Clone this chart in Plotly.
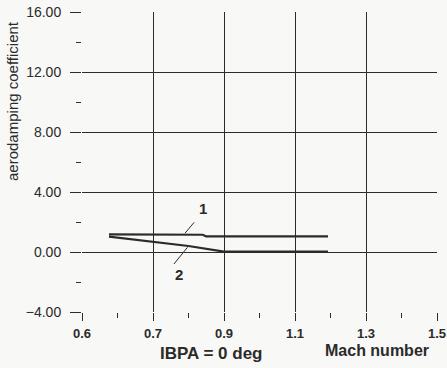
import plotly.graph_objects as go

# Aerodamping coefficient versus Mach number (IBPA = 0 deg)
mach_1 = [0.576, 0.70, 0.84, 0.85, 1.193]
coef_1 = [1.17, 1.16, 1.15, 1.04, 1.04]

mach_2 = [0.576, 0.70, 0.80, 0.90, 1.193]
coef_2 = [1.02, 0.70, 0.40, 0.02, 0.02]

x_tick_vals = [0.5, 0.7, 0.9, 1.1, 1.3, 1.5]
x_tick_text = ["0.6", "0.7", "0.9", "1.1", "1.3", "1.5"]
y_tick_vals = [-4, 0, 4, 8, 12, 16]

INK = "#2b2b2b"
BG = "#f8f8f6"
FONT = "Liberation Sans, Arial, sans-serif"

fig = go.Figure()
for xs, ys in ((mach_1, coef_1), (mach_2, coef_2)):
    fig.add_trace(go.Scatter(x=xs, y=ys, mode="lines",
                             line=dict(color=INK, width=2.2),
                             showlegend=False, hoverinfo="skip"))

# curve labels with leader lines
fig.add_shape(type="line", x0=0.816, y0=1.98, x1=0.790, y1=1.25,
              line=dict(color=INK, width=1))
fig.add_shape(type="line", x0=0.797, y0=0.31, x1=0.759, y1=-0.8,
              line=dict(color=INK, width=1))
fig.add_annotation(x=0.841, y=2.93, text="1", showarrow=False,
                   font=dict(family=FONT, size=15, color=INK, weight="bold"))
fig.add_annotation(x=0.774, y=-1.49, text="2", showarrow=False,
                   font=dict(family=FONT, size=15, color=INK, weight="bold"))

axis_common = dict(showline=False, showgrid=True, gridcolor=INK, gridwidth=1.4,
                   zeroline=False, ticks="outside", tickcolor=INK, tickwidth=1.4,
                   automargin=False)

fig.update_xaxes(range=[0.5, 1.5], tickvals=x_tick_vals, ticktext=x_tick_text,
                 ticklen=8, ticklabelstandoff=1,
                 tickfont=dict(family=FONT, size=13, color=INK, weight="bold"),
                 minor=dict(tickvals=[0.6, 0.8, 1.0, 1.2, 1.4], ticks="outside",
                            ticklen=5, tickcolor=INK, tickwidth=1.3, showgrid=False),
                 **axis_common)
fig.update_yaxes(range=[-4, 16], tickvals=y_tick_vals, tickformat=".2f",
                 ticklen=11, ticklabelstandoff=6,
                 tickfont=dict(family=FONT, size=14, color=INK),
                 minor=dict(tickvals=[-2, 2, 6, 10, 14], ticks="outside",
                            ticklen=5, tickcolor=INK, tickwidth=1.3, showgrid=False),
                 **axis_common)

fig.add_annotation(xref="paper", yref="paper", x=(13 - 82) / 355, y=(312 - 101) / 300,
                   xanchor="center", yanchor="middle",
                   text="aerodamping coefficient", textangle=-90, showarrow=False,
                   font=dict(family=FONT, size=15, color=INK))
fig.add_annotation(xref="paper", yref="paper", x=(211 - 82) / 355, y=(312 - 353) / 300,
                   xanchor="center", yanchor="middle",
                   text="IBPA = 0 deg", showarrow=False,
                   font=dict(family=FONT, size=17, color=INK, weight="bold"))
fig.add_annotation(xref="paper", yref="paper", x=(377 - 82) / 355, y=(312 - 350) / 300,
                   xanchor="center", yanchor="middle",
                   text="Mach number", showarrow=False,
                   font=dict(family=FONT, size=16, color=INK, weight="bold"))

fig.update_layout(width=447, height=368,
                  margin=dict(l=82, r=10, t=12, b=56, autoexpand=False),
                  paper_bgcolor=BG, plot_bgcolor=BG)

fig.write_html("out.html")
